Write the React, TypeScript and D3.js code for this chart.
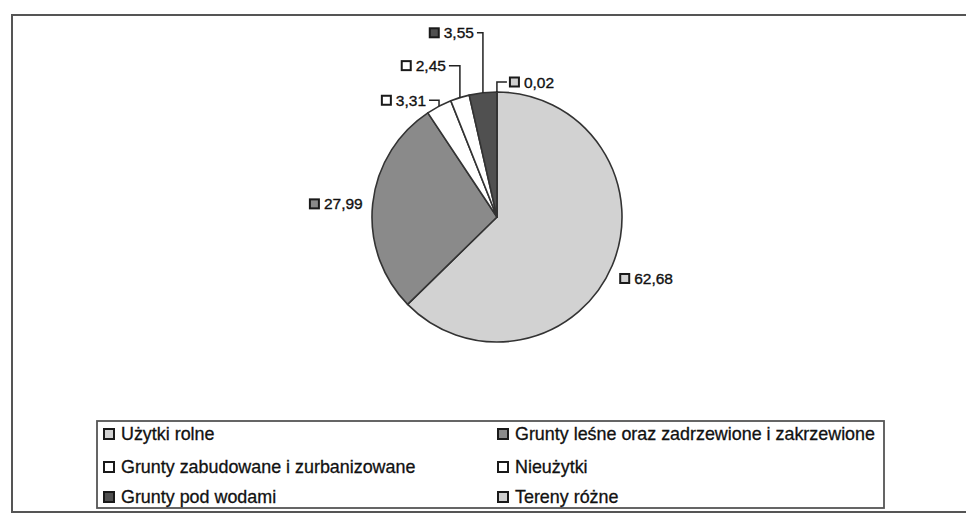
import React from "react";
import * as d3 from "d3";

const categories = [
  "Użytki rolne",
  "Grunty leśne oraz zadrzewione i zakrzewione",
  "Grunty zabudowane i zurbanizowane",
  "Nieużytki",
  "Grunty pod wodami",
  "Tereny różne",
];
const values = [62.68, 27.99, 3.31, 2.45, 3.55, 0.02];
const valueLabels = ["62,68", "27,99", "3,31", "2,45", "3,55", "0,02"];

// styles / layout (not data)
const fills = ["#d2d2d2", "#8a8a8a", "#ffffff", "#ffffff", "#505050", "#cfcfcf"];
const labelDX = [8, -10, -13, -14, -9, 13];
const labelDY = [13, 0, -6, -32, -60, -10];
const labelLeader = [false, false, true, true, true, true];

const W = 966;
const H = 517;
const cx = 497;
const cy = 217;
const R = 125;
const FONT = "'Liberation Sans', Arial, sans-serif";
const LABEL_FS = 15.5;
const LEGEND_FS = 17.9;

function measure(text: string, size: number): number {
  if (typeof document === "undefined") return text.length * size * 0.5;
  const c = document.createElement("canvas");
  const ctx = c.getContext("2d");
  if (!ctx) return text.length * size * 0.5;
  ctx.font = `${size}px 'Liberation Sans', Arial, sans-serif`;
  return ctx.measureText(text).width;
}

export default function App() {
  const pie = d3
    .pie<number>()
    .value((d) => d)
    .sort(null)
    .startAngle(0)
    .endAngle(2 * Math.PI);
  const arcs = pie(values);
  const arcGen = d3.arc<d3.PieArcDatum<number>>().innerRadius(0).outerRadius(R);

  const ms = 9;
  const gap = 5;

  const labels = arcs.map((a, i) => {
    const mid = (a.startAngle + a.endAngle) / 2;
    const ax = cx + R * Math.sin(mid);
    const ay = cy - R * Math.cos(mid);
    const ly = ay + labelDY[i];
    const tw = measure(valueLabels[i], LABEL_FS);
    let markerX: number, textX: number, leaderEnd: number;
    if (labelDX[i] < 0) {
      const textEnd = ax + labelDX[i];
      textX = textEnd - tw;
      markerX = textX - gap - ms;
      leaderEnd = textEnd + 3;
    } else {
      markerX = ax + labelDX[i];
      textX = markerX + ms + gap;
      leaderEnd = markerX - 3;
    }
    return { ax, ay, ly, markerX, textX, leaderEnd, i };
  });

  const legendX = [104, 498];
  const legendY = [434, 467, 497];
  const legendMs = 10;

  return (
    <svg
      width={W}
      height={H}
      style={{ position: "absolute", left: 0, top: 0, background: "#fff" }}
      fontFamily={FONT}
    >
      <rect x={0} y={0} width={W} height={H} fill="#ffffff" />
      {/* outer frame */}
      <rect x={12} y={15} width={W + 20} height={497} fill="none" stroke="#555" strokeWidth={2} />

      {/* pie */}
      <g transform={`translate(${cx},${cy})`}>
        {arcs.map((a, i) => (
          <path key={i} d={arcGen(a) || ""} fill={fills[i]} stroke="#333" strokeWidth={1.6} strokeLinejoin="round" />
        ))}
      </g>

      {/* labels */}
      {labels.map((l) => (
        <g key={l.i}>
          {labelLeader[l.i] && (
            <path
              d={`M${l.ax},${l.ay}L${l.ax},${l.ly}L${l.leaderEnd},${l.ly}`}
              fill="none"
              stroke="#222"
              strokeWidth={1.5}
            />
          )}
          <rect
            x={l.markerX}
            y={l.ly - ms / 2}
            width={ms}
            height={ms}
            fill={fills[l.i]}
            stroke="#1a1a1a"
            strokeWidth={2}
          />
          <text
            x={l.textX}
            y={l.ly}
            dy="0.36em"
            fontSize={LABEL_FS}
            fill="#111"
            stroke="#111"
            strokeWidth={0.35}
          >
            {valueLabels[l.i]}
          </text>
        </g>
      ))}

      {/* legend */}
      <rect x={97} y={421} width={787} height={87} fill="none" stroke="#555" strokeWidth={1.8} />
      {categories.map((c, i) => {
        const col = i % 2;
        const row = Math.floor(i / 2);
        const x = legendX[col];
        const y = legendY[row];
        return (
          <g key={c}>
            <rect
              x={x}
              y={y - legendMs / 2}
              width={legendMs}
              height={legendMs}
              fill={fills[i]}
              stroke="#1a1a1a"
              strokeWidth={2}
            />
            <text
              x={x + legendMs + 7}
              y={y}
              dy="0.36em"
              fontSize={LEGEND_FS}
              fill="#111"
              stroke="#111"
              strokeWidth={0.3}
            >
              {c}
            </text>
          </g>
        );
      })}
    </svg>
  );
}
